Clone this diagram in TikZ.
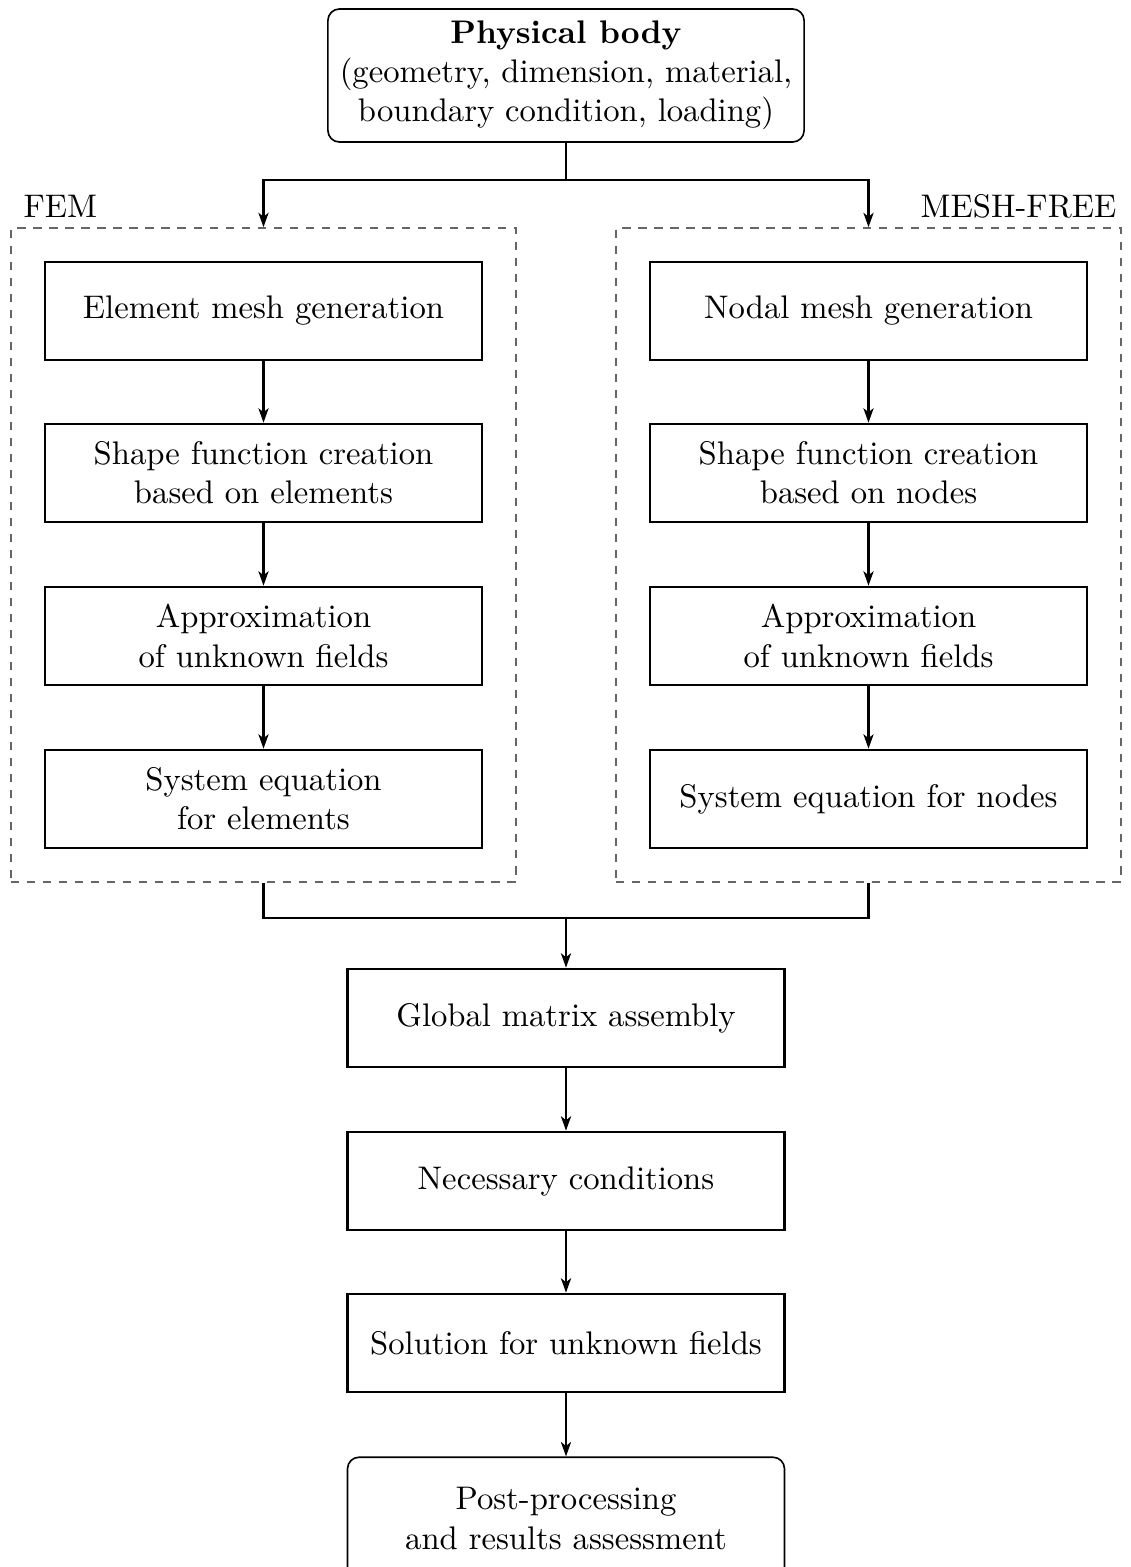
\documentclass[tikz,border=0pt]{standalone}
\usetikzlibrary{arrows.meta,fit}
\begin{document}
\begin{tikzpicture}[x=0.306pt,y=-0.306pt,
  box/.style={draw,line width=0.8pt,minimum width=133.7pt,minimum height=30pt,align=center,inner sep=2pt},
  rbox/.style={box,line width=0.5pt,rounded corners=3.5pt},
  grp/.style={draw=black!60,dash pattern=on 2.5pt off 2.4pt,line width=0.5pt,inner sep=10pt},
  conn/.style={line width=0.7pt},
  arr/.style={conn,-{Stealth[length=4.4pt,width=3.1pt,inset=1.2pt]}},
  lbl/.style={inner sep=0pt}]
\useasboundingbox (0,0) rectangle (1130,1567);
% top
\node[rbox,minimum width=145.7pt,minimum height=40.7pt] (body) at (566,75.5)
  {\textbf{Physical body}\\(geometry, dimension, material,\\boundary condition, loading)};
% FEM column
\node[box] (e1) at (263.5,311) {Element mesh generation};
\node[box] (e2) at (263.5,473) {Shape function creation\\based on elements};
\node[box] (e3) at (263.5,636) {Approximation\\of unknown fields};
\node[box] (e4) at (263.5,799) {System equation\\for elements};
% Mesh-free column
\node[box] (n1) at (868.5,311) {Nodal mesh generation};
\node[box] (n2) at (868.5,473) {Shape function creation\\based on nodes};
\node[box] (n3) at (868.5,636) {Approximation\\of unknown fields};
\node[box] (n4) at (868.5,799) {System equation for nodes};
% groups
\node[grp,fit=(e1)(e4)] (fem) {};
\node[grp,fit=(n1)(n4)] (mf) {};
\node[lbl,anchor=base west] (femlbl) at (23,217) {FEM};
\node[lbl,anchor=base east] (mflbl) at (1117,217) {MESH-FREE};
% bottom chain
\node[box] (g) at (566,1018) {Global matrix assembly};
\node[box] (c) at (566,1181) {Necessary conditions};
\node[box] (s) at (566,1343) {Solution for unknown fields};
\node[rbox,minimum height=37.5pt] (p) at (566,1518.5) {Post-processing\\and results assessment};
% connectors
\coordinate (split) at (566,180);
\coordinate (join) at (566,918);
\draw[conn] (body.south) -- (split);
\draw[arr] (split) -| (fem.north);
\draw[arr] (split) -| (mf.north);
\draw[arr] (e1) -- (e2);
\draw[arr] (e2) -- (e3);
\draw[arr] (e3) -- (e4);
\draw[arr] (n1) -- (n2);
\draw[arr] (n2) -- (n3);
\draw[arr] (n3) -- (n4);
\draw[conn] (fem.south) |- (join);
\draw[conn] (mf.south) |- (join);
\draw[arr] (join) -- (g.north);
\draw[arr] (g) -- (c);
\draw[arr] (c) -- (s);
\draw[arr] (s) -- (p);
\end{tikzpicture}
\end{document}
